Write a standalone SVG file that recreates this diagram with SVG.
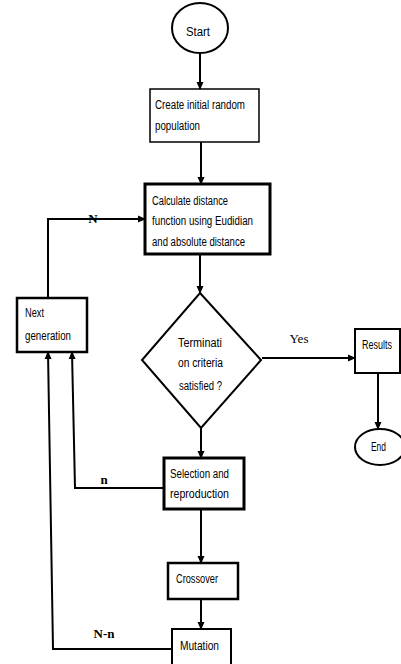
<svg xmlns="http://www.w3.org/2000/svg" width="401" height="664" viewBox="0 0 401 664">
<defs>
<marker id="ah" markerWidth="8" markerHeight="8" refX="7" refY="4" orient="auto" markerUnits="userSpaceOnUse">
<path d="M0,0.5 L8,4 L0,7.5 Z" fill="#000"/>
</marker>
</defs>
<style>
.box{fill:#fff;stroke:#000;stroke-width:2}
.thick{stroke-width:3}
.t{font-family:"Liberation Sans",Arial,sans-serif;font-size:12px;fill:#000}
.c{text-anchor:middle}
.lbl{font-family:"Liberation Serif","Times New Roman",serif;font-size:13px;font-weight:bold;fill:#000;text-anchor:middle}
.ln{fill:none;stroke:#000;stroke-width:2}
</style>
<rect width="401" height="664" fill="#fff"/>
<g id="connectors">
<line class="ln" x1="200" y1="53" x2="200" y2="89" marker-end="url(#ah)"/>
<line class="ln" x1="201" y1="142" x2="201" y2="184" marker-end="url(#ah)"/>
<line class="ln" x1="200" y1="254" x2="200" y2="293" marker-end="url(#ah)"/>
<line class="ln" x1="262" y1="358" x2="355" y2="358" marker-end="url(#ah)"/>
<line class="ln" x1="378" y1="373" x2="378" y2="429" marker-end="url(#ah)"/>
<line class="ln" x1="201" y1="428" x2="201" y2="458" marker-end="url(#ah)"/>
<line class="ln" x1="201" y1="509" x2="201" y2="563" marker-end="url(#ah)"/>
<line class="ln" x1="201" y1="599" x2="201" y2="629" marker-end="url(#ah)"/>
<polyline class="ln" points="48,298 48,219 145,219" marker-end="url(#ah)"/>
<polyline class="ln" points="164,488 75,488 72,352" marker-end="url(#ah)"/>
<polyline class="ln" points="172,649 53,649 48,352" marker-end="url(#ah)"/>
<text class="lbl" x="93" y="223" font-size="12">N</text>
<text class="lbl" x="299" y="343" style="font-weight:normal" font-size="12">Yes</text>
<text class="lbl" x="104" y="484">n</text>
<text class="lbl" x="104" y="638">N-n</text>
</g>
<g id="start">
<ellipse class="box" cx="200" cy="28" rx="28" ry="25"/>
<text class="t c" x="198" y="36" textLength="24" lengthAdjust="spacingAndGlyphs">Start</text>
</g>
<g id="create">
<rect class="box" x="150" y="89" width="109" height="53" style="stroke-width:1.5"/>
<text class="t" x="155" y="109" textLength="90" lengthAdjust="spacingAndGlyphs">Create initial random</text>
<text class="t" x="155" y="130" textLength="45" lengthAdjust="spacingAndGlyphs">population</text>
</g>
<g id="calculate">
<rect class="box thick" x="145" y="184" width="125" height="70"/>
<text class="t" x="152" y="205" textLength="76" lengthAdjust="spacingAndGlyphs">Calculate distance</text>
<text class="t" x="152" y="225" textLength="101" lengthAdjust="spacingAndGlyphs">function using Eudidian</text>
<text class="t" x="152" y="246" textLength="93" lengthAdjust="spacingAndGlyphs">and absolute distance</text>
</g>
<g id="next">
<rect class="box" x="17" y="298" width="70" height="54" style="stroke-width:2.5"/>
<text class="t" x="25" y="317" textLength="19" lengthAdjust="spacingAndGlyphs">Next</text>
<text class="t" x="25" y="340" textLength="46" lengthAdjust="spacingAndGlyphs">generation</text>
</g>
<g id="decision">
<polygon class="box" points="200,293 261,360 201,428 142,360"/>
<text class="t" x="178" y="347" textLength="44" lengthAdjust="spacingAndGlyphs">Terminati</text>
<text class="t" x="178" y="367" textLength="45" lengthAdjust="spacingAndGlyphs">on criteria</text>
<text class="t" x="179" y="390" textLength="43" lengthAdjust="spacingAndGlyphs">satisfied ?</text>
</g>
<g id="results">
<rect class="box" x="355" y="329" width="45" height="44"/>
<text class="t" x="362" y="349" textLength="30" lengthAdjust="spacingAndGlyphs">Results</text>
</g>
<g id="end">
<ellipse class="box" cx="380" cy="447" rx="25" ry="18"/>
<text class="t" x="371" y="451" textLength="15" lengthAdjust="spacingAndGlyphs">End</text>
</g>
<g id="selection">
<rect class="box thick" x="164" y="458" width="80" height="51"/>
<text class="t" x="170" y="478" textLength="59" lengthAdjust="spacingAndGlyphs">Selection and</text>
<text class="t" x="170" y="498" textLength="59" lengthAdjust="spacingAndGlyphs">reproduction</text>
</g>
<g id="crossover">
<rect class="box" x="168" y="563" width="70" height="36" style="stroke-width:2.5"/>
<text class="t" x="176" y="583" textLength="42" lengthAdjust="spacingAndGlyphs">Crossover</text>
</g>
<g id="mutation">
<rect class="box" x="172" y="629" width="59" height="40"/>
<text class="t" x="180" y="650" textLength="39" lengthAdjust="spacingAndGlyphs">Mutation</text>
</g>
</svg>
